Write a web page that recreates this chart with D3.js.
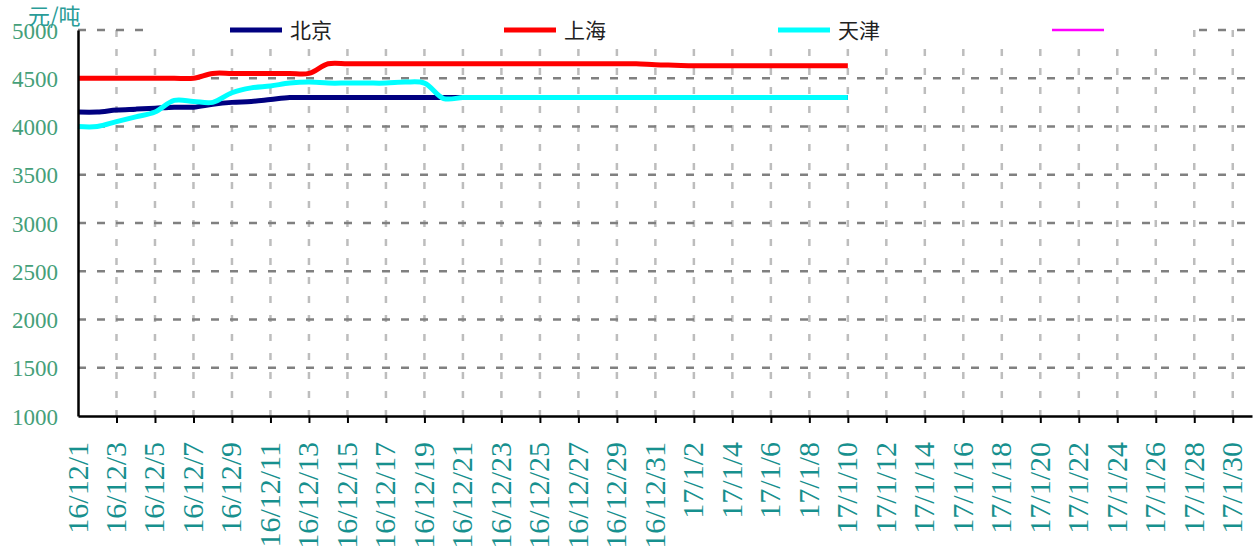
<!DOCTYPE html>
<html lang="zh">
<head>
<meta charset="UTF-8">
<title>价格走势</title>
<script src="https://d3js.org/d3.v7.min.js"></script>
<style>
    body { margin: 0; background: #fff; }
    svg { display: block; }
    .ylab text { font-family: "Liberation Serif", serif; font-size: 23px; fill: #45a079; }
    .xlab text { font-family: "Liberation Serif", serif; font-size: 30px; fill: #17908e; }
    .legend text { font-family: "Noto Sans CJK SC", sans-serif; font-size: 21px; fill: #222; }
</style>
</head>
<body>
<svg width="1256" height="556"></svg>
<script>
    // categories: every day 16/12/1 .. 17/1/31
    var days = [
        "16/12/1","16/12/2","16/12/3","16/12/4","16/12/5","16/12/6","16/12/7","16/12/8","16/12/9","16/12/10",
        "16/12/11","16/12/12","16/12/13","16/12/14","16/12/15","16/12/16","16/12/17","16/12/18","16/12/19","16/12/20",
        "16/12/21","16/12/22","16/12/23","16/12/24","16/12/25","16/12/26","16/12/27","16/12/28","16/12/29","16/12/30",
        "16/12/31","17/1/1","17/1/2","17/1/3","17/1/4","17/1/5","17/1/6","17/1/7","17/1/8","17/1/9",
        "17/1/10","17/1/11","17/1/12","17/1/13","17/1/14","17/1/15","17/1/16","17/1/17","17/1/18","17/1/19",
        "17/1/20","17/1/21","17/1/22","17/1/23","17/1/24","17/1/25","17/1/26","17/1/27","17/1/28","17/1/29",
        "17/1/30","17/1/31"
    ];

    // labelled dates (every other day)
    var tickLabels = [
        "16/12/1","16/12/3","16/12/5","16/12/7","16/12/9","16/12/11","16/12/13","16/12/15","16/12/17","16/12/19",
        "16/12/21","16/12/23","16/12/25","16/12/27","16/12/29","16/12/31","17/1/2","17/1/4","17/1/6","17/1/8",
        "17/1/10","17/1/12","17/1/14","17/1/16","17/1/18","17/1/20","17/1/22","17/1/24","17/1/26","17/1/28","17/1/30"
    ];

    var yTicks = [1000, 1500, 2000, 2500, 3000, 3500, 4000, 4500, 5000];

    var seriesNames = ["北京", "上海", "天津", ""];
    var seriesColors = ["#000080", "#ff0000", "#00ffff", "#ff00ff"];

    // 16/12/1 .. 17/1/10
    var beijing = [4150,4150,4170,4180,4190,4200,4200,4230,4250,4260,
                   4280,4300,4300,4300,4300,4300,4300,4300,4300,4300,
                   4300,4300,4300,4300,4300,4300,4300,4300,4300,4300,
                   4300,4300,4300,4300,4300,4300,4300,4300,4300,4300,4300];
    var shanghai = [4500,4500,4500,4500,4500,4500,4500,4550,4550,4550,
                    4550,4550,4550,4650,4650,4650,4650,4650,4650,4650,
                    4650,4650,4650,4650,4650,4650,4650,4650,4650,4650,
                    4640,4635,4630,4630,4630,4630,4630,4630,4630,4630,4630];
    var tianjin = [4000,4000,4050,4100,4150,4270,4260,4250,4350,4400,
                   4420,4450,4460,4450,4450,4450,4450,4460,4450,4290,
                   4300,4300,4300,4300,4300,4300,4300,4300,4300,4300,
                   4300,4300,4300,4300,4300,4300,4300,4300,4300,4300,4300];
    var series = [beijing, shanghai, tianjin, []];

    var plotL = 78, plotR = 1252, plotT = 30, plotB = 416;

    var svg = d3.select("svg");

    var x = d3.scalePoint().domain(days).range([plotL, plotR]);
    var y = d3.scaleLinear().domain([1000, 5000]).range([plotB, plotT]);

    // grid
    var evenDays = days.filter(function(d, i) { return i > 0 && i % 2 === 0; });
    svg.append("g").selectAll("line")
        .data(evenDays)
        .enter().append("line")
        .attr("x1", function(d) { return x(d); })
        .attr("x2", function(d) { return x(d); })
        .attr("y1", plotT).attr("y2", plotB)
        .attr("stroke", "#bdbdbd")
        .attr("stroke-width", 2.5)
        .attr("stroke-dasharray", "7,12");

    svg.append("g").selectAll("line")
        .data(yTicks.slice(1))
        .enter().append("line")
        .attr("x1", plotL).attr("x2", plotR)
        .attr("y1", function(d) { return y(d); })
        .attr("y2", function(d) { return y(d); })
        .attr("stroke", "#808080")
        .attr("stroke-width", 2.5)
        .attr("stroke-dasharray", "8,11");

    // series
    var line = d3.line()
        .x(function(d, i) { return x(days[i]); })
        .y(function(d) { return y(d); })
        .curve(d3.curveCatmullRom.alpha(0.5));

    series.forEach(function(s, k) {
        if (!s.length) return;
        svg.append("path")
            .datum(s)
            .attr("d", line)
            .attr("fill", "none")
            .attr("stroke", seriesColors[k])
            .attr("stroke-width", 5)
            .attr("stroke-linejoin", "round");
    });

    // axes
    var xAxis = svg.append("g")
        .attr("class", "xlab")
        .attr("transform", "translate(0," + plotB + ")")
        .call(d3.axisBottom(x).tickValues(tickLabels).tickSize(7).tickSizeOuter(0));
    xAxis.select(".domain").attr("stroke", "#000").attr("stroke-width", 2.5);
    xAxis.selectAll(".tick line").attr("stroke", "#000").attr("stroke-width", 2)
        .filter(function(d) { return d === days[0]; }).remove();
    xAxis.selectAll(".tick text")
        .attr("transform", "rotate(-90)")
        .attr("x", -26)
        .attr("y", 9)
        .attr("dy", 0)
        .attr("text-anchor", "end");

    var yAxis = svg.append("g")
        .attr("class", "ylab")
        .attr("transform", "translate(" + plotL + ",0)")
        .call(d3.axisLeft(y).tickValues(yTicks).tickSize(0).tickPadding(20).tickFormat(d3.format("d")));
    yAxis.select(".domain").attr("stroke", "#000").attr("stroke-width", 2.5);
    yAxis.selectAll(".tick text").attr("dy", "0.35em");

    // legend
    var legend = svg.append("g").attr("class", "legend");
    legend.append("rect")
        .attr("x", 145).attr("y", 12).attr("width", 1047).attr("height", 34)
        .attr("fill", "#fff");
    seriesNames.forEach(function(name, k) {
        var lx = 230 + k * 274;
        legend.append("line")
            .attr("x1", lx).attr("x2", lx + 52)
            .attr("y1", 30).attr("y2", 30)
            .attr("stroke", seriesColors[k])
            .attr("stroke-width", k === 3 ? 2.5 : 5);
        legend.append("text")
            .attr("x", lx + 60).attr("y", 38)
            .text(name);
    });

    // unit
    svg.append("text")
        .attr("x", 28).attr("y", 24)
        .attr("font-family", "Noto Sans CJK SC, sans-serif")
        .attr("font-size", 22)
        .attr("fill", "#2a9c98")
        .text("元/吨");
</script>
</body>
</html>
